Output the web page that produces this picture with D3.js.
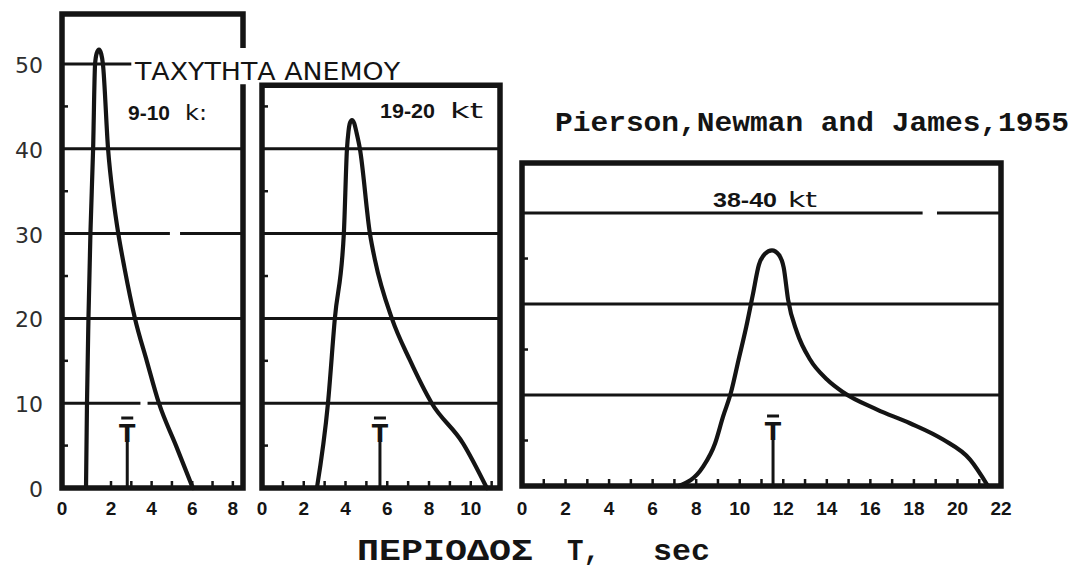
<!DOCTYPE html>
<html>
<head>
<meta charset="utf-8">
<script src="https://cdn.jsdelivr.net/npm/d3@7"></script>
<style>
  html, body { margin: 0; padding: 0; background: #fff; }
  svg { display: block; }
</style>
</head>
<body>
<svg id="chart" width="1072" height="568"></svg>
<script>
// Wave energy spectra (Pierson, Neumann & James, 1955) for three wind speeds.

// Wind speed of each panel
const windSpeeds = ["9-10", "19-20", "38-40"];
const windUnits = ["k:", "kt", "kt"];

// Spectrum, wind 9-10 kt: period T (s) and spectral energy
const period1 = [0.98, 1.02, 1.08, 1.16, 1.27, 1.35, 1.42, 1.51, 1.60, 1.67, 1.88, 2.12, 2.36, 2.66, 3.18, 3.76, 4.36, 5.2, 6.03];
const energy1 = [0, 10, 20, 30, 40, 50, 51.3, 51.7, 51.2, 50, 40, 34, 30, 26, 20, 15, 10, 5, 0];

// Spectrum, wind 19-20 kt
const period2 = [2.63, 3.16, 3.49, 3.92, 4.07, 4.14, 4.22, 4.31, 4.42, 4.52, 4.69, 5.17, 5.41, 6.22, 7.08, 8.13, 9.62, 10.77];
const energy2 = [0, 10, 20, 30, 40, 42, 43.1, 43.4, 43.0, 42, 40, 30, 26.9, 20, 15.1, 10, 5.3, 0];

// Spectrum, wind 38-40 kt
const period3 = [7.2, 8.31, 8.87, 9.23, 9.6, 9.95, 10.3, 10.6, 10.88, 11.15, 11.48, 11.8, 12.02, 12.22, 12.63, 13.23, 14.01, 14.75, 16.31, 17.82, 19.34, 20.58, 21.4];
const energy3 = [0, 2.1, 4.7, 7.6, 10.3, 13.9, 17.5, 21.0, 24.3, 25.5, 25.9, 25.4, 24.0, 20.5, 16.9, 13.9, 11.7, 10.3, 8.4, 6.9, 5.1, 2.9, 0];

// Mean period T-bar of each spectrum (s)
const meanPeriods = [2.8, 5.65, 11.53];

// Axis ticks
const yTickLabels = [0, 10, 20, 30, 40, 50];
const xTickLabels1 = [0, 2, 4, 6, 8];
const xTickLabels2 = [0, 2, 4, 6, 8, 10];
const xTickLabels3 = [0, 2, 4, 6, 8, 10, 12, 14, 16, 18, 20, 22];

// Horizontal grid levels of each panel
const gridLevels1 = [10, 20, 30, 40, 50];
const gridLevels2 = [10, 20, 30, 40];
const gridLevels3 = [10, 20, 30];

// Texts
const titleSpeed = "ΤΑΧΥΤΗΤΑ ΑΝΕΜΟΥ";
const sourceText = "Pierson,Newman and James,1955";
const xTitleParts = ["ΠΕΡΙΟΔΟΣ", "T,", "sec"];

const svg = d3.select("#chart");
const ink = "#141414";

// Scales for each panel
const ySmall = d3.scaleLinear().domain([0, 55.9]).range([488, 14]);
const yLarge = d3.scaleLinear().domain([0, 35.5]).range([486, 163]);

const panels = [
  {
    x: d3.scaleLinear().domain([0, 2, 8.5]).range([62, 111, 243]),
    y: ySmall, xMax: 8.5, yMax: 55.9,
    period: period1, energy: energy1, mean: meanPeriods[0],
    ticks: xTickLabels1, grid: gridLevels1,
    gridExtent: { 50: 3.0 },
    gaps: [{ level: 30, from: 4.9, to: 5.4 }, { level: 10, from: 3.45, to: 3.8 }],
    rightGap: [47.3, 52.2],
    minorY: [5, 15, 25, 35, 45]
  },
  {
    x: d3.scaleLinear().domain([0, 11.4]).range([262, 500]),
    y: ySmall, xMax: 11.4, yMax: 47.5,
    period: period2, energy: energy2, mean: meanPeriods[1],
    ticks: xTickLabels2, grid: gridLevels2,
    gridExtent: {}, gaps: [], rightGap: null,
    minorY: [5, 15, 25, 35, 45]
  },
  {
    x: d3.scaleLinear().domain([0, 22]).range([522, 1001]),
    y: yLarge, xMax: 22, yMax: 35.5,
    period: period3, energy: energy3, mean: meanPeriods[2],
    ticks: xTickLabels3, grid: gridLevels3,
    gridExtent: {}, gaps: [{ level: 30, from: 18.4, to: 19.06 }], rightGap: null,
    minorY: [5, 15, 25]
  }
];

// each spectrum is a single-valued function of the period
const curve = d3.line()
  .x(d => d[0]).y(d => d[1])
  .curve(d3.curveMonotoneX);

panels.forEach((p, i) => {
  const g = svg.append("g");
  const x = p.x, y = p.y;

  // grid lines, split where the printed line breaks
  p.grid.forEach(level => {
    const end = p.gridExtent[level] !== undefined ? p.gridExtent[level] : p.xMax;
    const cuts = p.gaps.filter(q => q.level === level).sort((a, b) => a.from - b.from);
    let start = 0;
    const segs = [];
    cuts.forEach(c => { segs.push([start, c.from]); start = c.to; });
    segs.push([start, end]);
    segs.forEach(s => {
      g.append("line")
        .attr("x1", x(s[0])).attr("x2", x(s[1]))
        .attr("y1", y(level)).attr("y2", y(level))
        .attr("stroke", ink).attr("stroke-width", 3);
    });
  });

  // minor ticks along the period axis
  const intTicks = d3.range(1, Math.floor(p.xMax) + 1).filter(t => t < p.xMax - 0.2);
  g.selectAll(".xt").data(intTicks).join("line")
    .attr("x1", d => x(d)).attr("x2", d => x(d))
    .attr("y1", y(0)).attr("y2", y(0) - 7)
    .attr("stroke", ink).attr("stroke-width", 2.5);

  // minor ticks on the left edge
  g.selectAll(".yt").data(p.minorY.filter(v => v < p.yMax)).join("line")
    .attr("x1", x(0)).attr("x2", x(0) + 6)
    .attr("y1", d => y(d)).attr("y2", d => y(d))
    .attr("stroke", ink).attr("stroke-width", 2.5);

  // panel frame
  const x0 = x(0), x1 = x(p.xMax), yb = y(0), yt = y(p.yMax);
  let framePath = `M${x1},${yb} L${x0},${yb} L${x0},${yt} L${x1},${yt}`;
  if (p.rightGap) {
    framePath += ` L${x1},${y(p.rightGap[1])} M${x1},${y(p.rightGap[0])} L${x1},${yb}`;
  } else {
    framePath += ` L${x1},${yb}`;
  }
  g.append("path").attr("d", framePath)
    .attr("fill", "none").attr("stroke", ink)
    .attr("stroke-width", 5.5).attr("stroke-linecap", "square");

  // spectrum curve
  const pts = p.period.map((t, k) => [x(t), y(p.energy[k])]);
  g.append("path").attr("d", curve(pts))
    .attr("fill", "none").attr("stroke", ink)
    .attr("stroke-width", 4.2).attr("stroke-linejoin", "round").attr("stroke-linecap", "round");

  // mean period marker: stem, T and overbar
  const xm = x(p.mean);
  g.append("line").attr("x1", xm).attr("x2", xm)
    .attr("y1", yb).attr("y2", yb - 46)
    .attr("stroke", ink).attr("stroke-width", 3);
  g.append("text").attr("x", xm).attr("y", yb - 46)
    .attr("text-anchor", "middle")
    .attr("font-family", "DejaVu Sans, sans-serif").attr("font-weight", "bold")
    .attr("font-size", 24).attr("fill", ink).text("T");
  g.append("line").attr("x1", xm - 6).attr("x2", xm + 6)
    .attr("y1", yb - 70).attr("y2", yb - 70)
    .attr("stroke", ink).attr("stroke-width", 3);

  // period tick labels
  g.selectAll(".xl").data(p.ticks).join("text")
    .attr("x", d => x(d)).attr("y", 515)
    .attr("text-anchor", "middle")
    .attr("font-family", "Liberation Sans, Arial, sans-serif")
    .attr("font-weight", "bold").attr("font-size", 19)
    .attr("fill", ink).text(d => d);
});

// energy axis labels (shared by the two small panels)
svg.selectAll(".yl").data(yTickLabels).join("text")
  .attr("x", 43).attr("y", d => ySmall(d) + 3)
  .attr("text-anchor", "end").attr("dominant-baseline", "middle")
  .attr("font-family", "DejaVu Sans, sans-serif").attr("font-size", 22)
  .attr("fill", "#2e2e2e").text(d => d);

// wind speed captions
const speedPos = [
  { x: 128, y: 120, w1: 42, ux: 185, uw: 22 },
  { x: 380, y: 118, w1: 55, ux: 450, uw: 33 },
  { x: 713, y: 207, w1: 64, ux: 788, uw: 29 }
];
windSpeeds.forEach((s, i) => {
  const q = speedPos[i];
  svg.append("text").attr("x", q.x).attr("y", q.y)
    .attr("font-family", "Liberation Sans, Arial, sans-serif")
    .attr("font-weight", "bold").attr("font-size", 21)
    .attr("textLength", q.w1).attr("lengthAdjust", "spacingAndGlyphs")
    .attr("fill", ink).text(s);
  svg.append("text").attr("x", q.ux).attr("y", q.y)
    .attr("font-family", "DejaVu Sans, sans-serif")
    .attr("font-size", 21)
    .attr("textLength", q.uw).attr("lengthAdjust", "spacingAndGlyphs")
    .attr("fill", ink).text(windUnits[i]);
});

// wind speed heading
svg.append("text").attr("x", 135).attr("y", 80)
  .attr("font-family", "DejaVu Sans, sans-serif").attr("font-size", 24)
  .attr("textLength", 265).attr("lengthAdjust", "spacingAndGlyphs")
  .attr("fill", ink).text(titleSpeed);

// source line
svg.append("text").attr("x", 555).attr("y", 131)
  .attr("font-family", "Liberation Mono, monospace").attr("font-weight", "bold")
  .attr("font-size", 27)
  .attr("textLength", 514).attr("lengthAdjust", "spacingAndGlyphs")
  .attr("fill", ink).text(sourceText);

// period axis title
const titlePos = [{ x: 357, w: 176 }, { x: 567, w: 33 }, { x: 653, w: 57 }];
xTitleParts.forEach((t, i) => {
  svg.append("text").attr("x", titlePos[i].x).attr("y", 560)
    .attr("font-family", "Liberation Mono, monospace").attr("font-weight", "bold")
    .attr("font-size", 30)
    .attr("textLength", titlePos[i].w).attr("lengthAdjust", "spacingAndGlyphs")
    .attr("fill", ink).text(t);
});
</script>
</body>
</html>
